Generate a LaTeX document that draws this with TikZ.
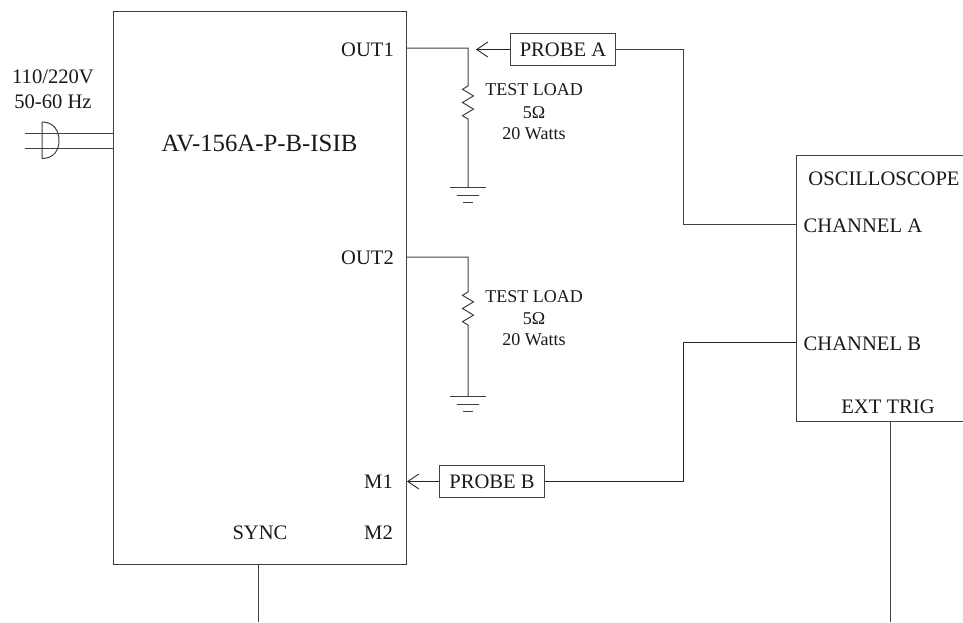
\documentclass[tikz,border=0pt]{standalone}
\usepackage{fontspec}
\setmainfont{Liberation Serif}
\usetikzlibrary{arrows.meta}
\newcommand{\fsz}[1]{\fontsize{#1}{#1}\selectfont}
\tikzset{
  wire/.style={draw=black!75, line width=1pt},
  thin wire/.style={draw=black!85, line width=0.9pt},
  lbl/.style={inner sep=0pt, font=\fsz{20.6}, text=black!90, yshift=-1pt},
  small/.style={inner sep=0pt, text=black!90, align=center},
  probe/.style={draw=black!75, line width=1pt, inner sep=0pt, font=\fsz{20.6}, text=black!90},
  tip/.style={-{Straight Barb[length=11pt,width=15pt,line width=0.9pt]}},
  zig/.style={wire, line join=miter},
}
\begin{document}
\begin{tikzpicture}[x=1pt,y=-1pt]
\useasboundingbox (0,0) rectangle (963,622);
% main unit
\node[draw=black!75, line width=1pt, minimum width=293pt, minimum height=553pt, inner sep=0pt, anchor=north west] (unit) at (113,11) {};
\node[inner sep=0pt, font=\fsz{24.8}, text=black!90] (title) at (259.5,143) {AV-156A-P-B-ISIB};
\node[lbl, anchor=east] (out1) at (394,49) {OUT1};
\node[lbl, anchor=east] (out2) at (394,257) {OUT2};
\node[lbl, anchor=east] (m1) at (393,481) {M1};
\node[lbl, anchor=east] (m2) at (393,532) {M2};
\node[lbl] (sync) at (260,532) {SYNC};
\node[lbl, align=center] (mains) at (53,88) {110/220V\\[4pt]50-60 Hz};
% mains plug
\coordinate (plugA) at (25,133);
\coordinate (plugB) at (25,148);
\coordinate (unitA) at (113,133);
\coordinate (unitB) at (113,148);
\draw[wire] (plugA) -- (unitA);
\draw[wire] (plugB) -- (unitB);
\draw[wire] (42,122) -- (42,158.5) .. controls (54,158.5) and (59,150) .. (59,140.5) .. controls (59,131) and (54,122) .. (42,122);
% oscilloscope
\coordinate (oTL) at (963,155);
\coordinate (oBL) at (963,421);
\coordinate (oA) at (796,155);
\coordinate (oB) at (796,421);
\draw[wire] (oTL) -- (oA) -- (oB) -- (oBL);
\node[lbl] (osc) at (884,178) {OSCILLOSCOPE};
\node[lbl, anchor=west] (cha) at (803.5,225) {CHANNEL A};
\node[lbl, anchor=west] (chb) at (803.5,343) {CHANNEL B};
\node[lbl] (ext) at (888,406) {EXT TRIG};
% probes
\node[probe, minimum width=105pt, minimum height=32pt] (pa) at (563,49.5) {PROBE A};
\node[probe, minimum width=105pt, minimum height=32pt] (pb) at (492,481.5) {PROBE B};
% load 1
\coordinate (j1) at (468,48);
\coordinate (r1t) at (468,86);
\coordinate (g1) at (468,187);
\draw[zig] (unit.east |- j1) -- (j1) -- (r1t) -- ++(-5.5,3.3) -- ++(11,6.6) -- ++(-11,6.6) -- ++(11,6.6) -- ++(-11,6.6) -- ++(5.5,3.3) -- (g1);
\draw[wire] (g1) ++(-18,0) -- ++(36,0);
\draw[wire] (g1) ++(-11,8) -- ++(22,0);
\draw[wire] (g1) ++(-5,15) -- ++(10,0);
\node[small] (t1) at (534,90) {\fsz{18}TEST LOAD};
\node[small] (o1) at (534,113) {\fsz{18}5Ω};
\node[small] (w1) at (534,134) {\fsz{18}20 Watts};
% load 2
\coordinate (j2) at (468,257);
\coordinate (r2t) at (468,292);
\coordinate (g2) at (468,396);
\draw[zig] (unit.east |- j2) -- (j2) -- (r2t) -- ++(-5.5,3.3) -- ++(11,6.6) -- ++(-11,6.6) -- ++(11,6.6) -- ++(-11,6.6) -- ++(5.5,3.3) -- (g2);
\draw[wire] (g2) ++(-18,0) -- ++(36,0);
\draw[wire] (g2) ++(-11,8) -- ++(22,0);
\draw[wire] (g2) ++(-5,15) -- ++(10,0);
\node[small] (t2) at (534,297) {\fsz{18}TEST LOAD};
\node[small] (o2) at (534,319) {\fsz{18}5Ω};
\node[small] (w2) at (534,340) {\fsz{18}20 Watts};
% connectors
\coordinate (tipA) at (476,49.5);
\draw[thin wire, tip] (pa.west) -- (tipA);
\draw[thin wire, tip] (pb.west) -- (unit.east |- pb.west);
\coordinate (ka) at (683,224);
\coordinate (kb) at (683,342.5);
\draw[wire] (pa.east) -- (ka |- pa.east) -- (ka) -- (oA |- ka);
\draw[thin wire] (pb.east) -- (kb |- pb.east) -- (kb) -- (oA |- kb);
\coordinate (syncEnd) at (258,622);
\coordinate (trigEnd) at (890,622);
\draw[wire] (syncEnd |- unit.south) -- (syncEnd);
\draw[wire] (trigEnd |- oB) -- (trigEnd);
\end{tikzpicture}
\end{document}
